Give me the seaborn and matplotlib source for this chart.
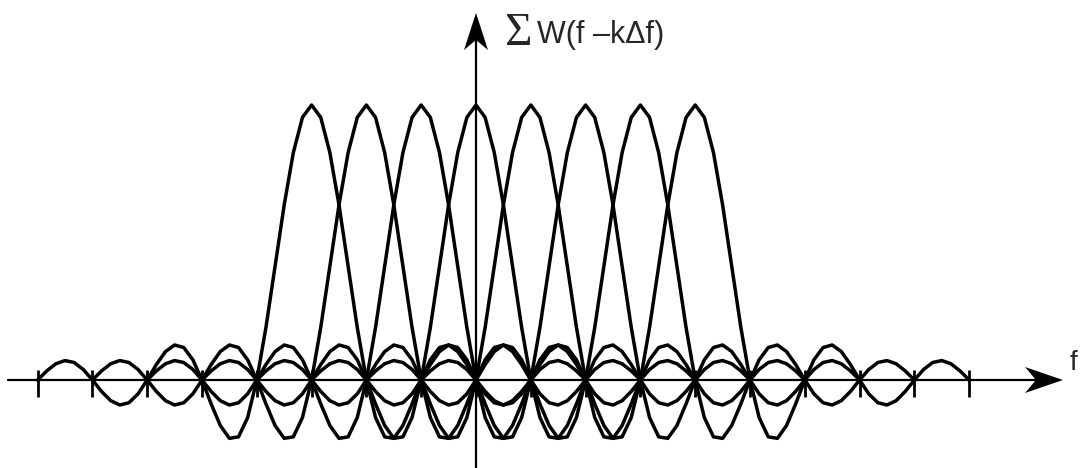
import numpy as np
import pandas as pd
import matplotlib
matplotlib.use('Agg')
import matplotlib.pyplot as plt
import seaborn as sns
from matplotlib.patches import Polygon

# Centres of the shifted kernels (in units of delta f)
peak_centres = [-3, -2, -1, 0, 1, 2, 3, 4]
# Each kernel is drawn over +/- half_span units around its centre
half_span = 5
# coarse sampling step of the drawn curves
step = 1 / 6
# tick marks on the f axis
tick_positions = list(range(-8, 10))

y_label = 'W(f \u2013k\u0394f)'
x_label = 'f'

# Build a long table: one row per sample point of each kernel
rows = []
for k in peak_centres:
    u = np.arange(k - half_span, k + half_span + step / 2, step)
    for ui in u:
        rows.append({'f': ui, 'W': np.sinc(ui - k), 'k': k})
df = pd.DataFrame(rows)

sns.set_style('white')
plt.rcParams['font.family'] = ['Liberation Sans', 'DejaVu Sans']

fig = plt.figure(figsize=(10.82, 4.68), dpi=100)
ax = fig.add_axes([0, 0, 1, 1])

# pixel mapping: x_px = 476 + 54.8*u, y_px = 380 - 275*v
sx, sy = 54.8, 275.0
ax.set_xlim(-476 / sx, (1082 - 476) / sx)
ax.set_ylim((380 - 468) / sy, 380 / sy)

sns.lineplot(data=df, x='f', y='W', units='k', estimator=None, sort=False,
             color='black', linewidth=2.5, ax=ax, legend=False)

# axes lines
x_end = (1063 - 476) / sx
y_end = (380 - 13) / sy
ax.plot([(8 - 476) / sx, x_end - 0.3], [0, 0], color='black', lw=1.6)
ax.plot([0, 0], [(380 - 472) / sy, y_end - 0.05], color='black', lw=1.6)

# tick marks
ax.vlines(tick_positions, -0.062, 0.036, color='black', lw=2)

# arrow heads (notched), sized in pixels then converted to data units
hx = Polygon([[x_end, 0], [x_end - 38 / sx, 13 / sy], [x_end - 27 / sx, 0],
              [x_end - 38 / sx, -13 / sy]], closed=True, color='black', lw=0)
hy = Polygon([[0, y_end], [12 / sx, y_end - 37 / sy], [0, y_end - 27 / sy],
              [-12 / sx, y_end - 37 / sy]], closed=True, color='black', lw=0)
ax.add_patch(hx)
ax.add_patch(hy)

# labels
ax.text((504 - 476) / sx, (380 - 45) / sy, '\u03a3', fontsize=34,
        family=['Liberation Serif', 'DejaVu Serif'], ha='left', va='baseline')
ax.text((537 - 476) / sx, (380 - 43) / sy, y_label, fontsize=22,
        ha='left', va='baseline')
ax.text((1070 - 476) / sx, (380 - 370) / sy, x_label, fontsize=20,
        ha='left', va='baseline')

ax.set_axis_off()
fig.savefig('out.png', dpi=100)
